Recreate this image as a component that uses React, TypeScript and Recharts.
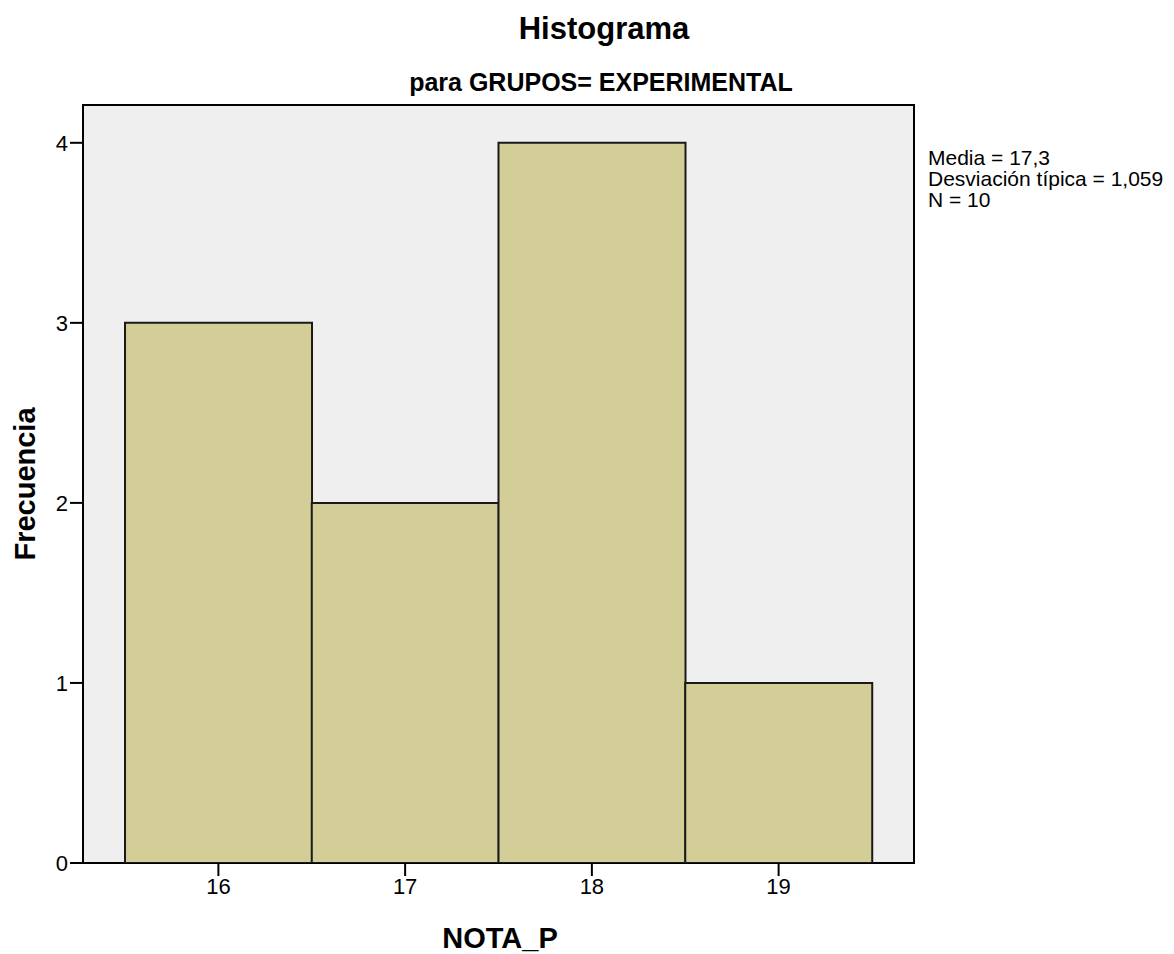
import { BarChart, Bar, XAxis, YAxis, CartesianGrid, ReferenceArea } from 'recharts';

const notas = [16, 17, 18, 19];
const frecuencias = [3, 2, 4, 1];
const xTicks = [16, 17, 18, 19];
const yTicks = [0, 1, 2, 3, 4];
const xDomain: [number, number] = [15.275, 19.725];
const yDomain: [number, number] = [0, 4.21];
const stats = ['Media = 17,3', 'Desviación típica = 1,059', 'N = 10'];

const data = notas.map((n, i) => ({ nota: n, freq: frecuencias[i] }));

const font = '"Liberation Sans", Arial, sans-serif';

export default function App() {
  return (
    <div style={{ position: 'absolute', left: 0, top: 0, width: 1174, height: 954, background: '#fff', fontFamily: font }}>
      <div style={{ position: 'absolute', left: 0, width: 1208, top: 11, textAlign: 'center', fontSize: 31, fontWeight: 'bold', lineHeight: '36px' }}>
        Histograma
      </div>
      <div style={{ position: 'absolute', left: 0, width: 1202, top: 67, textAlign: 'center', fontSize: 25, fontWeight: 'bold', lineHeight: '30px' }}>
        para GRUPOS= EXPERIMENTAL
      </div>
      <div style={{ position: 'absolute', left: 928, top: 147, fontSize: 21, lineHeight: '21px' }}>
        {stats.map((s) => (
          <div key={s}>{s}</div>
        ))}
      </div>
      <div
        style={{
          position: 'absolute', left: 25, top: 484, fontSize: 29, fontWeight: 'bold',
          transform: 'translate(-50%, -50%) rotate(-90deg)', whiteSpace: 'nowrap',
        }}
      >
        Frecuencia
      </div>
      <div style={{ position: 'absolute', left: 400, width: 200, top: 921, textAlign: 'center', fontSize: 29, fontWeight: 'bold', lineHeight: '34px' }}>
        NOTA_P
      </div>
      <BarChart
        width={1174}
        height={954}
        data={data}
        margin={{ top: 105, right: 260, bottom: 11, left: 3 }}
        barCategoryGap={0}
        barGap={0}
      >
        <CartesianGrid horizontal={false} vertical={false} fill="#efefef" />
        <XAxis
          type="number"
          dataKey="nota"
          domain={xDomain}
          ticks={xTicks}
          allowDataOverflow
          height={80}
          axisLine={false}
          tickSize={13}
          tickLine={{ stroke: '#000', strokeWidth: 2 }}
          tick={{ fontSize: 22, fill: '#000', fontFamily: font }}
        />
        <YAxis
          domain={yDomain}
          ticks={yTicks}
          allowDataOverflow
          width={80}
          axisLine={false}
          tickSize={13}
          tickMargin={2}
          tickLine={{ stroke: '#000', strokeWidth: 2 }}
          tick={{ fontSize: 22, fill: '#000', fontFamily: font }}
        />
        <Bar dataKey="freq" fill="#d3cd98" stroke="#1a1a1a" strokeWidth={2} isAnimationActive={false} />
        <ReferenceArea
          x1={xDomain[0]}
          x2={xDomain[1]}
          y1={yDomain[0]}
          y2={yDomain[1]}
          fill="none"
          fillOpacity={0}
          stroke="#000"
          strokeWidth={2}
          ifOverflow="extendDomain"
        />
      </BarChart>
    </div>
  );
}
